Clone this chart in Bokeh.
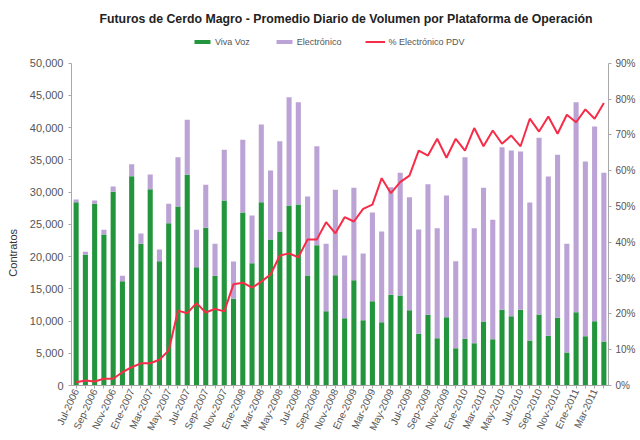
from bokeh.plotting import figure
from bokeh.models import (Range1d, LinearAxis, FixedTicker, NumeralTickFormatter,
                          Legend, LegendItem, ColumnDataSource)
from bokeh.embed import file_html
from bokeh.resources import INLINE
import math

months = [
    "Jul-2006", "Ago-2006", "Sep-2006", "Oct-2006", "Nov-2006", "Dic-2006",
    "Ene-2007", "Feb-2007", "Mar-2007", "Abr-2007", "May-2007", "Jun-2007",
    "Jul-2007", "Ago-2007", "Sep-2007", "Oct-2007", "Nov-2007", "Dic-2007",
    "Ene-2008", "Feb-2008", "Mar-2008", "Abr-2008", "May-2008", "Jun-2008",
    "Jul-2008", "Ago-2008", "Sep-2008", "Oct-2008", "Nov-2008", "Dic-2008",
    "Ene-2009", "Feb-2009", "Mar-2009", "Abr-2009", "May-2009", "Jun-2009",
    "Jul-2009", "Ago-2009", "Sep-2009", "Oct-2009", "Nov-2009", "Dic-2009",
    "Ene-2010", "Feb-2010", "Mar-2010", "Abr-2010", "May-2010", "Jun-2010",
    "Jul-2010", "Ago-2010", "Sep-2010", "Oct-2010", "Nov-2010", "Dic-2010",
    "Ene-2011", "Feb-2011", "Mar-2011", "Abr-2011",
]

tick_labels = [
    "Jul-2006", "Sep-2006", "Nov-2006", "Ene-2007", "Mar-2007", "May-2007",
    "Jul-2007", "Sep-2007", "Nov-2007", "Ene-2008", "Mar-2008", "May-2008",
    "Jul-2008", "Sep-2008", "Nov-2008", "Ene-2009", "Mar-2009", "May-2009",
    "Jul-2009", "Sep-2009", "Nov-2009", "Ene-2010", "Mar-2010", "May-2010",
    "Jul-2010", "Sep-2010", "Nov-2010", "Ene-2011", "Mar-2011",
]

viva_voz = [
    28440, 20270, 28180, 23430, 30040, 16190, 32470, 21980, 30460, 19290,
    25180, 27770, 32680, 18360, 24460, 17010, 28700, 13450, 26840, 18980,
    28440, 22650, 23890, 27920, 28080, 17060, 21770, 11530, 17120, 10450,
    16340, 10140, 13080, 9830, 14070, 13960, 11690, 8020, 10960, 7340,
    10600, 5790, 7240, 6570, 9930, 7190, 11740, 10760, 11740, 6980,
    11010, 7710, 10500, 5120, 11380, 7650, 9980, 6830,
]

electronico = [
    410, 470, 520, 720, 830, 820, 1870, 1600, 2270, 1810,
    3000, 7650, 8530, 5790, 6670, 4970, 7860, 5790, 11270, 7390,
    12050, 10700, 14010, 16810, 15870, 12260, 15360, 10450, 13230, 9720,
    14320, 10340, 13760, 14060, 16700, 19030, 17530, 16180, 20270, 17070,
    18880, 13500, 28180, 17840, 20730, 18510, 25230, 25700, 24560, 21410,
    27410, 24710, 25280, 16860, 32570, 27100, 30200, 26160,
]

pct_electronico = [
    0.9, 1.4, 1.1, 1.9, 1.9, 3.7, 5.1, 6.2, 6.2, 7.2,
    9.8, 20.9, 20.2, 23.0, 20.4, 21.4, 20.7, 28.3, 28.7, 27.3,
    29.0, 31.0, 36.3, 36.9, 35.8, 40.8, 40.8, 45.6, 42.5, 47.0,
    45.8, 49.3, 50.5, 57.9, 53.7, 56.8, 58.6, 65.6, 64.2, 68.9,
    63.6, 68.9, 65.6, 71.9, 66.8, 71.2, 67.5, 69.8, 66.8, 74.5,
    70.9, 75.1, 70.3, 75.6, 73.5, 77.1, 74.5, 78.9,
]

FONT = "Liberation Sans"
GREEN = "#23953D"
PURPLE = "#BBA3D6"
RED = "#F72C48"
AXIS_GRAY = "#A8A8A8"
TEXT_GRAY = "#555555"

W, H = 640, 440
BL, BR, BT, BB = 71, 32, 28, 55
# frame spans from BT (top) to H-BB (bottom); data top (50,000 / 90%) sits at y=62.7
FRAME_TOP, FRAME_BOT, DATA_TOP = BT, H - BB, 62.7
stretch = (FRAME_BOT - FRAME_TOP) / (FRAME_BOT - DATA_TOP)

LEFT_MAX = 50000
RIGHT_MAX = 0.9

xs = list(range(len(months)))
src = ColumnDataSource(dict(
    x=xs,
    viva=viva_voz,
    elec=electronico,
    pct=[v / 100.0 for v in pct_electronico],
))

p = figure(width=W, height=H, output_backend="svg", toolbar_location=None,
           x_range=Range1d(-0.5, len(months) - 0.5),
           y_range=Range1d(0, LEFT_MAX * stretch),
           min_border_left=BL, min_border_right=BR, min_border_top=BT,
           min_border_bottom=BB)
p.extra_y_ranges = {"pct": Range1d(0, RIGHT_MAX * stretch)}

p.title.text = "Futuros de Cerdo Magro - Promedio Diario de Volumen por Plataforma de Operación"
p.title.text_font = FONT
p.title.text_font_size = "12.3px"
p.title.text_font_style = "bold"
p.title.text_color = "#222222"
p.title.align = "left"
p.title.offset = 28
p.title.standoff = 5

renderers = p.vbar_stack(["viva", "elec"], x="x", width=0.55, source=src,
                         color=[GREEN, PURPLE], line_color=None)
line_r = p.line("x", "pct", source=src, y_range_name="pct", color=RED,
                line_width=2)

p.xgrid.visible = False
p.ygrid.visible = False
p.outline_line_color = None
p.background_fill_color = "white"
p.border_fill_color = "white"

# x axis
xa = p.xaxis[0]
xa.ticker = FixedTicker(ticks=xs)
overrides = {}
for i, m in enumerate(months):
    overrides[i] = m if m in tick_labels else ""
xa.major_label_overrides = overrides
xa.major_label_orientation = math.radians(65)
xa.major_label_text_font = FONT
xa.major_label_text_font_size = "10px"
xa.major_label_text_color = TEXT_GRAY
xa.major_label_standoff = 1
xa.axis_line_color = AXIS_GRAY
xa.major_tick_line_color = AXIS_GRAY
xa.major_tick_out = 3
xa.major_tick_in = 0
xa.minor_tick_line_color = None

# left axis
ya = p.yaxis[0]
ya.bounds = (0, LEFT_MAX)
ya.ticker = FixedTicker(ticks=list(range(0, LEFT_MAX + 1, 5000)))
ya.formatter = NumeralTickFormatter(format="0,0")
ya.major_label_text_font = FONT
ya.major_label_text_font_size = "11px"
ya.major_label_text_color = TEXT_GRAY
ya.axis_line_color = AXIS_GRAY
ya.major_tick_line_color = AXIS_GRAY
ya.major_tick_out = 3
ya.major_tick_in = 0
ya.major_label_standoff = 5
ya.minor_tick_line_color = None
# non-breaking spaces keep the title centred on the 0-50,000 part of the axis
ya.axis_label = "Contratos" + "\u00a0" * 30
ya.axis_label_text_font = FONT
ya.axis_label_text_font_size = "11px"
ya.axis_label_text_font_style = "normal"
ya.axis_label_text_color = "#333333"
ya.axis_label_standoff = 8

# right axis
ra = LinearAxis(y_range_name="pct")
ra.bounds = (0, RIGHT_MAX)
ra.ticker = FixedTicker(ticks=[i / 10.0 for i in range(10)])
ra.formatter = NumeralTickFormatter(format="0%")
ra.major_label_text_font = FONT
ra.major_label_text_font_size = "10px"
ra.major_label_text_color = TEXT_GRAY
ra.axis_line_color = AXIS_GRAY
ra.major_tick_line_color = AXIS_GRAY
ra.major_tick_out = 3
ra.major_tick_in = 0
ra.major_label_standoff = 4
ra.minor_tick_line_color = None
p.add_layout(ra, "right")

legend = Legend(items=[
    LegendItem(label="Viva Voz", renderers=[renderers[0]]),
    LegendItem(label="Electrónico", renderers=[renderers[1]]),
    LegendItem(label="% Electrónico PDV", renderers=[line_r]),
], orientation="horizontal", location=(121, (FRAME_BOT - 41) - 5.5))
legend.label_text_font = FONT
legend.label_text_font_size = "9px"
legend.label_text_color = TEXT_GRAY
legend.glyph_width = 20
legend.glyph_height = 5
legend.label_height = 10
legend.label_standoff = 3
legend.spacing = 24
legend.padding = 0
legend.margin = 0
legend.border_line_color = None
legend.background_fill_alpha = 0
p.add_layout(legend, "center")

open("out.html", "w").write(file_html(p, INLINE))
